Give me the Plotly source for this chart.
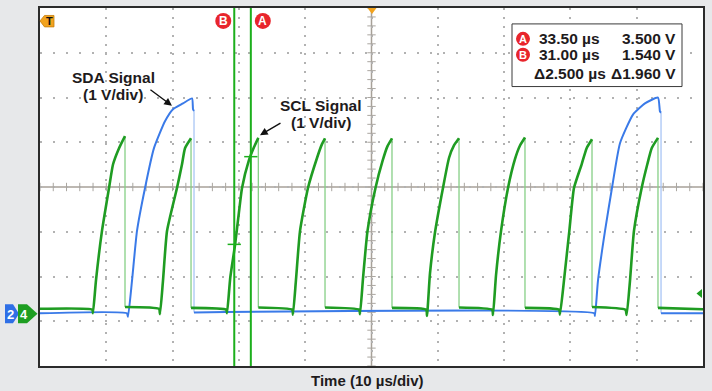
import plotly.graph_objects as go
import numpy as np

# Time axis: 10 us/div, 10 divisions; volts: 1 V/div, ground of both channels at 0 V
X_RANGE = [0, 100]
Y_RANGE = [-1.178, 6.822]

# SCL (channel 4, green) trace vertices: time (us), volts
scl_t = [0, 7.9, 7.99, 8.44, 9.35, 10.41, 11.02, 11.92, 12.82, 12.82,
         17.95, 18.10, 18.55, 19.16, 20.66, 21.42, 21.87, 22.78, 22.78,
         28.10, 28.21, 28.70, 29.41, 30.00, 30.47, 31.47, 32.30, 32.93, 32.93,
         38.05, 38.16, 38.61, 39.22, 40.42, 41.78, 42.53, 42.99, 42.99,
         48.15, 48.27, 48.72, 49.40, 50.60, 51.70, 52.40, 53.09, 53.09,
         58.25, 58.37, 58.82, 59.57, 60.78, 61.69, 62.44, 63.20, 63.20,
         68.20, 68.33, 68.78, 69.54, 70.59, 71.65, 72.40, 73.15, 73.15,
         78.30, 78.43, 79.03, 79.84, 80.54, 81.70, 82.45, 83.26, 83.26,
         88.30, 88.49, 88.99, 89.59, 90.75, 91.60, 92.26, 93.21, 93.21,
         100]
scl_v = [0.10, 0.08, 0.00, 0.73, 1.84, 2.80, 3.33, 3.69, 3.96, 0.14,
         0.10, -0.02, 0.73, 1.84, 2.80, 3.33, 3.69, 3.91, 0.12,
         0.08, 0.00, 0.80, 1.52, 2.25, 2.80, 3.40, 3.72, 3.92, 0.13,
         0.08, -0.03, 0.75, 1.84, 2.80, 3.47, 3.78, 3.91, 0.13,
         0.08, -0.02, 0.78, 1.84, 2.80, 3.42, 3.73, 3.91, 0.12,
         0.08, -0.06, 0.89, 1.80, 2.80, 3.47, 3.75, 3.91, 0.13,
         0.08, -0.04, 0.85, 1.84, 2.80, 3.45, 3.75, 3.93, 0.12,
         0.08, -0.03, 0.73, 1.84, 2.80, 3.33, 3.69, 3.89, 0.14,
         0.08, -0.04, 0.73, 1.84, 2.80, 3.33, 3.69, 3.92, 0.12,
         0.09]

# SDA (channel 2, blue) trace vertices: time (us), volts
sda_t = [0, 13.10, 13.27, 13.88, 14.63, 15.84, 17.19, 18.85, 20.06, 21.57, 22.93,
         23.08, 23.23, 23.23, 83.60, 83.71, 84.16, 85.22, 86.27, 87.48, 89.44,
         91.25, 93.21, 93.51, 93.67, 93.67, 100]
sda_v = [0.0, 0.0, -0.08, 0.73, 1.84, 2.80, 3.69, 4.29, 4.56, 4.69, 4.80,
         4.56, 4.52, 0.02, 0.0, -0.06, 0.73, 1.84, 2.80, 3.80, 4.44,
         4.69, 4.82, 4.51, 4.48, 0.0, 0.0]

# Cursors (time in us) and their readouts
cursor_names = ["A", "B"]
cursor_t = [31.8, 29.3]
cursor_v = [3.500, 1.540]
readout_time = ["33.50 µs", "31.00 µs", "Δ2.500 µs"]
readout_volt = ["3.500 V", "1.540 V", "Δ1.960 V"]
trigger_level_v = 0.44

# ---------------- geometry ----------------
W, H = 712, 391
L, R, T, B = 40, 9, 6, 25
PW, PH = W - L - R, H - T - B

def px(x):
    return (x - L) / PW

def py(y):
    return 1 - (y - T) / PH

GREEN = "#1f9c22"
GREEN_L = "#86cf86"
BLUE = "#3a7ae8"
BLUE_L = "#a9c5f5"
CURSOR = "#1caf1c"
RED = "#e8252c"
ORANGE = "#f2a31e"
TXT = "#1e1b1c"
FONT = "Liberation Sans, Arial, sans-serif"


def split_trace(t, v):
    """Separate the slow parts of a trace from its vertical fast edges."""
    mt, mv, ft, fv = [], [], [], []
    for i in range(len(t)):
        mt.append(t[i]); mv.append(v[i])
        if i + 1 < len(t) and t[i + 1] == t[i] and v[i + 1] < v[i]:
            mt.append(None); mv.append(None)
            ft += [t[i], t[i + 1], None]
            fv += [v[i], v[i + 1], None]
    return mt, mv, ft, fv


fig = go.Figure()

# graticule center-line minor ticks
yc = (Y_RANGE[0] + Y_RANGE[1]) / 2
fig.add_trace(go.Scatter(x=np.arange(0, 100.01, 2), y=[yc] * 51, mode="markers",
                         marker=dict(symbol="line-ns", size=6, line=dict(color="#aaa6a0", width=1)),
                         hoverinfo="skip"))
fig.add_trace(go.Scatter(x=[50] * 41, y=Y_RANGE[0] + np.arange(0, 8.01, 0.2), mode="markers",
                         marker=dict(symbol="line-ew", size=6, line=dict(color="#aaa6a0", width=1)),
                         hoverinfo="skip"))

for (t, v, c, cl, w) in [(sda_t, sda_v, BLUE, BLUE_L, 2.0), (scl_t, scl_v, GREEN, GREEN_L, 2.6)]:
    mt, mv, ft, fv = split_trace(t, v)
    fig.add_trace(go.Scatter(x=ft, y=fv, mode="lines", line=dict(color=cl, width=1.3),
                             hoverinfo="skip", connectgaps=False))
    fig.add_trace(go.Scatter(x=mt, y=mv, mode="lines",
                             line=dict(color=c, width=w, shape="spline", smoothing=0.5),
                             hoverinfo="skip", connectgaps=False))

shapes = []
# center cross
shapes.append(dict(type="line", xref="paper", yref="paper", x0=0, x1=1, y0=0.5, y1=0.5,
                   line=dict(color="#a7a198", width=1.5), layer="below"))
shapes.append(dict(type="line", xref="paper", yref="paper", x0=0.5, x1=0.5, y0=0, y1=1,
                   line=dict(color="#a7a198", width=1.5), layer="below"))
# cursors
for name, ct, cv in zip(cursor_names, cursor_t, cursor_v):
    shapes.append(dict(type="line", xref="x", yref="paper", x0=ct, x1=ct, y0=0, y1=1,
                       line=dict(color=CURSOR, width=2)))
    shapes.append(dict(type="line", xref="x", yref="y", x0=ct - 1, x1=ct + 1, y0=cv, y1=cv,
                       line=dict(color=CURSOR, width=1.5)))

annotations = []

def circle_label(cx, cy, d, letter, size):
    shapes.append(dict(type="circle", xref="paper", yref="paper",
                       x0=px(cx - d / 2), x1=px(cx + d / 2), y0=py(cy + d / 2), y1=py(cy - d / 2),
                       fillcolor=RED, line=dict(width=0)))
    annotations.append(dict(xref="paper", yref="paper", x=px(cx), y=py(cy + 0.5), text="<b>%s</b>" % letter,
                            showarrow=False, font=dict(family=FONT, size=size, color="white"),
                            xanchor="center", yanchor="middle"))

# cursor flags at top of screen
for name, ct in zip(cursor_names, cursor_t):
    xpix = L + (ct - X_RANGE[0]) / (X_RANGE[1] - X_RANGE[0]) * PW
    cx = xpix + 12 if name == "A" else xpix - 11
    circle_label(cx, 19, 16, name, 12)

# readout box
shapes.append(dict(type="rect", xref="paper", yref="paper", x0=px(512), x1=px(682), y0=py(85), y1=py(22),
                   fillcolor="white", line=dict(color="#3a3a3a", width=1)))
row_y = [37, 53, 72]
for i in range(3):
    annotations.append(dict(xref="paper", yref="paper", x=px(537 if i < 2 else 532), y=py(row_y[i]),
                            text="<b>%s</b>" % readout_time[i], showarrow=False, xanchor="left", yanchor="middle",
                            font=dict(family=FONT, size=15.5, color=TXT)))
    annotations.append(dict(xref="paper", yref="paper", x=px(678), y=py(row_y[i]),
                            text="<b>%s</b>" % readout_volt[i], showarrow=False, xanchor="right", yanchor="middle",
                            font=dict(family=FONT, size=15.5, color=TXT)))
circle_label(523, 37, 14, "A", 11)
circle_label(523, 53, 14, "B", 11)

# trigger position icon (top-left) and top-center marker
shapes.append(dict(type="path", xref="paper", yref="paper",
                   path="M %f,%f L %f,%f L %f,%f L %f,%f L %f,%f Z" % (
                       px(40), py(19), px(44.5), py(13.5), px(54), py(13.5), px(54), py(25), px(44.5), py(25)),
                   fillcolor=ORANGE, line=dict(color="#c47d0c", width=0.8)))
annotations.append(dict(xref="paper", yref="paper", x=px(49), y=py(19.5), text="<b>T</b>", showarrow=False,
                        font=dict(family=FONT, size=11, color="#111"), xanchor="center", yanchor="middle"))
shapes.append(dict(type="path", xref="paper", yref="paper",
                   path="M %f,%f L %f,%f L %f,%f Z" % (px(367.5), py(6), px(376.5), py(6), px(372), py(12)),
                   fillcolor=ORANGE, line=dict(width=0)))

# channel ground markers (left)
shapes.append(dict(type="path", xref="paper", yref="paper",
                   path="M %f,%f L %f,%f L %f,%f L %f,%f L %f,%f Z" % (
                       px(5), py(304), px(13), py(304), px(19), py(313.5), px(13), py(323), px(5), py(323)),
                   fillcolor="#2f6fe6", line=dict(width=0)))
shapes.append(dict(type="path", xref="paper", yref="paper",
                   path="M %f,%f L %f,%f L %f,%f L %f,%f L %f,%f Z" % (
                       px(18), py(304), px(27), py(304), px(37.5), py(313.5), px(27), py(323), px(18), py(323)),
                   fillcolor="#1e9e22", line=dict(width=0)))
annotations.append(dict(xref="paper", yref="paper", x=px(10.5), y=py(314), text="<b>2</b>", showarrow=False,
                        font=dict(family=FONT, size=13, color="white"), xanchor="center", yanchor="middle"))
annotations.append(dict(xref="paper", yref="paper", x=px(23.5), y=py(314), text="<b>4</b>", showarrow=False,
                        font=dict(family=FONT, size=13, color="white"), xanchor="center", yanchor="middle"))

# trigger level marker (right edge)
ty = T + (Y_RANGE[1] - trigger_level_v) / (Y_RANGE[1] - Y_RANGE[0]) * PH
shapes.append(dict(type="path", xref="paper", yref="paper",
                   path="M %f,%f L %f,%f L %f,%f Z" % (px(702), py(ty - 4.5), px(696.5), py(ty), px(702), py(ty + 4.5)),
                   fillcolor="#1e9e22", line=dict(width=0)))

# signal labels with arrows
for text, cx, cy in [("SDA Signal", 113, 76), ("(1 V/div)", 113, 93),
                     ("SCL Signal", 321, 104), ("(1 V/div)", 321, 121)]:
    annotations.append(dict(xref="paper", yref="paper", x=px(cx), y=py(cy), text="<b>%s</b>" % text,
                            showarrow=False, xanchor="center", yanchor="middle",
                            font=dict(family=FONT, size=15.5, color=TXT)))
annotations.append(dict(x=19.9, y=4.64, xref="x", yref="y", text="", showarrow=True, ax=-23, ay=-17,
                        arrowhead=2, arrowsize=1.1, arrowwidth=1.4, arrowcolor="#111", standoff=0))
annotations.append(dict(x=33.18, y=3.98, xref="x", yref="y", text="", showarrow=True, ax=22, ay=-13,
                        arrowhead=2, arrowsize=1.1, arrowwidth=1.4, arrowcolor="#111", standoff=0))

# x-axis caption
annotations.append(dict(xref="paper", yref="paper", x=px(367), y=py(381), text="<b>Time (10 µs/div)</b>",
                        showarrow=False, xanchor="center", yanchor="middle",
                        font=dict(family=FONT, size=15, color=TXT)))

fig.update_layout(
    width=W, height=H, autosize=False,
    margin=dict(l=L, r=R, t=T, b=B, pad=0),
    paper_bgcolor="#e7e8ea", plot_bgcolor="white",
    showlegend=False,
    shapes=shapes, annotations=annotations,
    xaxis=dict(range=X_RANGE, tick0=0, dtick=10, showgrid=True, gridcolor="#b2b2b2", gridwidth=1.5,
               griddash="2px,7px", showticklabels=False, ticks="", zeroline=False,
               showline=True, mirror=True, linecolor="#2b2b2b", linewidth=2),
    yaxis=dict(range=Y_RANGE, tick0=Y_RANGE[0], dtick=1, showgrid=True, gridcolor="#b2b2b2", gridwidth=1.5,
               griddash="2px,11px", showticklabels=False, ticks="", zeroline=False,
               showline=True, mirror=True, linecolor="#2b2b2b", linewidth=2),
)

fig.write_html("out.html", config={"displayModeBar": False},
               post_script="document.body.style.margin='0';document.body.style.overflow='hidden';"
                           "document.body.style.background='#e7e8ea';")
